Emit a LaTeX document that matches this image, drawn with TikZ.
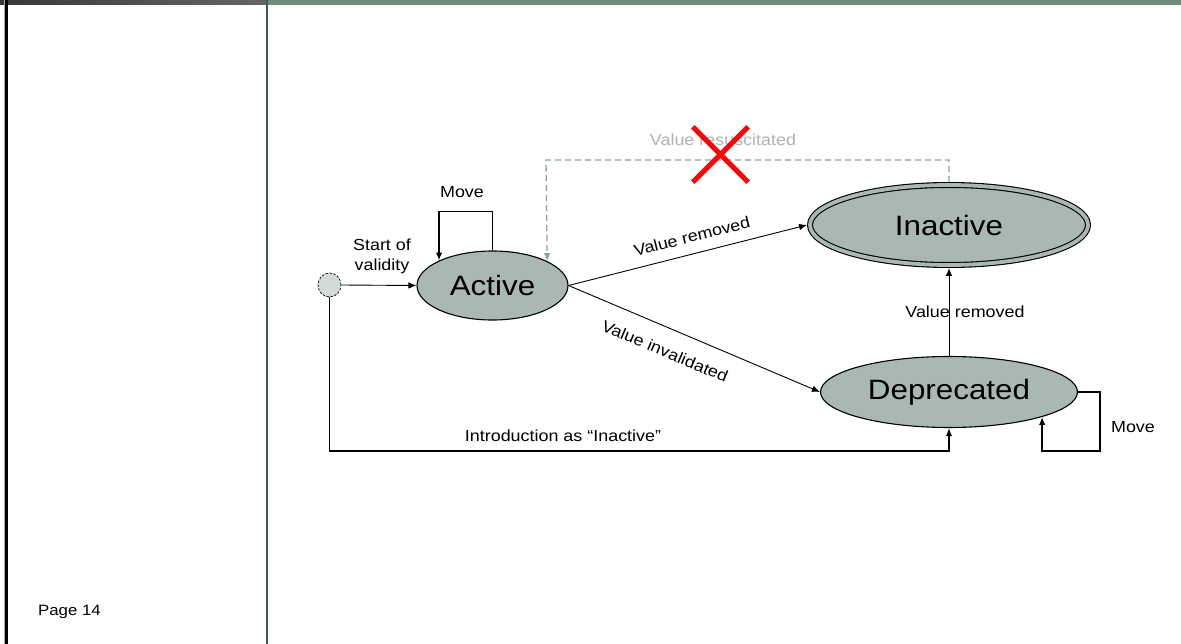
\documentclass[tikz,border=0pt]{standalone}
\usepackage{fontspec}
\setmainfont{Liberation Sans}[FakeStretch=1.12]
\usetikzlibrary{arrows.meta,shapes.geometric}

\definecolor{statefill}{RGB}{169,184,176}
\definecolor{initfill}{RGB}{211,219,215}
\definecolor{headgreen}{RGB}{110,139,126}
\definecolor{dividergreen}{RGB}{58,92,78}
\definecolor{revivegray}{RGB}{138,165,154}
\definecolor{revivetext}{RGB}{178,178,178}
\definecolor{xred}{RGB}{240,12,12}

\begin{document}
\begin{tikzpicture}[x=1pt,y=-1pt,
  state/.style={ellipse, draw=black, line width=1.1pt, fill=statefill,
    inner sep=0pt, font=\fontsize{28}{32}\selectfont},
  startdot/.style={ellipse, draw=black, dash pattern=on 2.5pt off 1.5pt,
    fill=initfill, line width=0.7pt, minimum width=23pt, minimum height=24pt,
    inner sep=0pt},
  lbl/.style={font=\fontsize{16}{20}\selectfont, inner sep=1pt},
  tip/.style={-{Latex[length=8pt,width=6.5pt]}},
  thinline/.style={tip, line width=0.9pt},
  thickline/.style={tip, line width=1.5pt},
  revive/.style={tip, draw=revivegray, dash pattern=on 6pt off 4pt,
    line width=1.3pt},
]
\useasboundingbox (0,0) rectangle (1181,644);
\fill[white] (0,0) rectangle (1181,644);

% header band
\shade[left color=black!78, right color=black!60] (0,0) rectangle (267,5);
\fill[headgreen] (267,0) rectangle (1181,5);

% page rules
\draw[black!35, line width=0.8pt] (4,0) -- (4,644);
\draw[black, line width=2.5pt] (6.3,0) -- (6.3,644);
\draw[dividergreen, line width=1.6pt] (266.7,0) -- (266.7,644);

\node[font=\fontsize{15}{18}\selectfont, anchor=west, inner sep=0pt]
  (page) at (38,612) {Page 14};

% states
\node[startdot] (init) at (329.5,285) {};
\node[state, minimum width=151pt, minimum height=69pt]
  (active) at (492.5,285.5) {Active};
\node[state, double=statefill, double distance=3.8pt,
  minimum width=278pt, minimum height=80pt, outer sep=3pt]
  (inactive) at (949,225) {Inactive};
\node[state, minimum width=257pt, minimum height=71pt]
  (deprecated) at (949,392) {Deprecated};

% transitions
\draw[thinline] (init.east) -- (active.west);
\node[lbl, align=center] (startlbl) at (382,256) {Start of\\validity};

\draw[thickline] (active.north) -- ++(0,-39) -| (active.155.4);
\node[lbl] (moveactive) at (462,192) {Move};

\draw[thinline] (active.east) -- (inactive.west)
  node[lbl, sloped, above=10pt, pos=0.535] (removedtop) {Value removed};

\draw[thinline] (active.east) -- (deprecated.west)
  node[lbl, sloped, below=15.5pt, pos=0.419] (invalidated) {Value invalidated};

\draw[thinline] (deprecated.north) -- (inactive.south);
\node[lbl] (removedright) at (965,312) {Value removed};

\coordinate (deploop) at (1100,451);
\draw[thickline] (deprecated.east) -| (deploop) -| (deprecated.-15.9);
\node[lbl] (movedep) at (1133,427) {Move};

\coordinate (introcorner) at (329.5,451);
\draw[thickline] (init.south) -- (introcorner) -| (deprecated.south);
\node[lbl] (introlbl) at (563,436) {Introduction as “Inactive”};

% withdrawn transition, crossed out
\coordinate (revivecorner) at (546,160);
\draw[revive] (inactive.north) |- (revivecorner) -- (active.24.6);
\node[lbl, text=revivetext] (revivelbl) at (723,140) {Value resuscitated};
\node[minimum size=55pt, inner sep=0pt] (cross) at (720.5,154.5) {};
\draw[xred, line width=5pt] (cross.north west) -- (cross.south east)
  (cross.north east) -- (cross.south west);
\end{tikzpicture}
\end{document}
